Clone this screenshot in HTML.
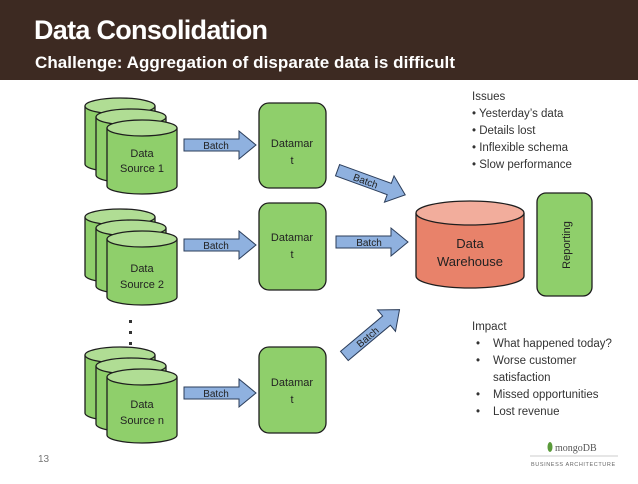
<!DOCTYPE html>
<html><head><meta charset="utf-8"><style>
body{margin:0;width:638px;height:479px;background:#fff;overflow:hidden;font-family:"Liberation Sans",sans-serif}
</style></head><body>
<svg width="638" height="479" xmlns="http://www.w3.org/2000/svg" font-family="Liberation Sans, sans-serif">
<defs>
<g id="cyl">
<path d="M0,0 v58 a35,8 0 0 0 70,0 v-58" fill="#8fcf6b" stroke="#1e1e1e" stroke-width="1.3"/>
<ellipse cx="35" cy="0" rx="35" ry="8" fill="#b0dd94" stroke="#1e1e1e" stroke-width="1.3"/>
</g>
<g id="stack">
<use href="#cyl" x="85" y="0"/><use href="#cyl" x="96" y="11"/><use href="#cyl" x="107" y="22"/>
</g>
<path id="arr" d="M0,7 h55 v-8 l17,14 l-17,14 v-8 h-55 z" fill="#8fb1df" stroke="#2b3d5a" stroke-width="1"/>
</defs>
<rect x="0" y="0" width="638" height="80" fill="#3d2a22"/>
<text x="34" y="39" fill="#fff" font-size="27" font-weight="bold" textLength="234">Data Consolidation</text>
<text x="35" y="68" fill="#fff" font-size="17" font-weight="bold" textLength="420">Challenge: Aggregation of disparate data is difficult</text>

<use href="#stack" y="106"/>
<use href="#stack" y="217"/>
<use href="#stack" y="355"/>
<g font-size="11" fill="#222" text-anchor="middle">
<text x="142" y="157">Data</text><text x="142" y="172">Source 1</text>
<text x="142" y="272">Data</text><text x="142" y="288">Source 2</text>
<text x="142" y="408">Data</text><text x="142" y="424">Source n</text>
</g>
<g fill="#333"><rect x="129" y="320" width="3" height="3"/><rect x="129" y="331" width="3" height="3"/><rect x="129" y="342" width="3" height="3"/></g>

<use href="#arr" x="184" y="132"/><use href="#arr" x="184" y="232"/><use href="#arr" x="184" y="380"/>
<use href="#arr" x="336" y="229"/>
<g font-size="10" fill="#222" text-anchor="middle">
<text x="216" y="149">Batch</text><text x="216" y="249">Batch</text><text x="216" y="397">Batch</text><text x="369" y="246">Batch</text>
</g>
<g transform="translate(342,158) rotate(20)"><use href="#arr"/><text x="30" y="17" font-size="10" text-anchor="middle" fill="#222">Batch</text></g>
<g transform="translate(336,346) rotate(-40)"><use href="#arr"/><text x="30" y="17" font-size="10" text-anchor="middle" fill="#222">Batch</text></g>

<g fill="#8fcf6b" stroke="#1e1e1e" stroke-width="1.3">
<rect x="259" y="103" width="67" height="85" rx="10"/>
<rect x="259" y="203" width="67" height="87" rx="10"/>
<rect x="259" y="347" width="67" height="86" rx="10"/>
<rect x="537" y="193" width="55" height="103" rx="9"/>
</g>
<g font-size="11" fill="#222" text-anchor="middle">
<text x="292" y="147">Datamar</text><text x="292" y="164">t</text>
<text x="292" y="241">Datamar</text><text x="292" y="258">t</text>
<text x="292" y="386">Datamar</text><text x="292" y="403">t</text>
</g>
<text transform="translate(570,245) rotate(-90)" font-size="11" fill="#222" text-anchor="middle">Reporting</text>

<path d="M416,213 v63 a54,12 0 0 0 108,0 v-63" fill="#e8826a" stroke="#1e1e1e" stroke-width="1.3"/>
<ellipse cx="470" cy="213" rx="54" ry="12" fill="#f2ad9c" stroke="#1e1e1e" stroke-width="1.3"/>
<g font-size="13" fill="#222" text-anchor="middle"><text x="470" y="248">Data</text><text x="470" y="266">Warehouse</text></g>

<g font-size="11.5" fill="#333">
<text x="472" y="100">Issues</text>
<text x="472" y="117">•  Yesterday’s data</text>
<text x="472" y="134">•  Details lost</text>
<text x="472" y="151">•  Inflexible schema</text>
<text x="472" y="168">•  Slow performance</text>
<text x="472" y="330">Impact</text>
<text x="476" y="347">•</text><text x="493" y="347">What happened today?</text>
<text x="476" y="364">•</text><text x="493" y="364">Worse customer</text>
<text x="493" y="381">satisfaction</text>
<text x="476" y="398">•</text><text x="493" y="398">Missed opportunities</text>
<text x="476" y="415">•</text><text x="493" y="415">Lost revenue</text>
</g>
<text x="38" y="462" font-size="10" fill="#777">13</text>
<ellipse cx="550" cy="447" rx="2.5" ry="5" fill="#5a9a3a"/>
<text x="555" y="451" font-size="10" fill="#555" font-family="Liberation Serif, serif">mongoDB</text>
<line x1="530" y1="456" x2="618" y2="456" stroke="#ccc"/>
<text x="531" y="466" font-size="5.5" fill="#666" letter-spacing="0.6">BUSINESS ARCHITECTURE</text>
</svg>
</body></html>
